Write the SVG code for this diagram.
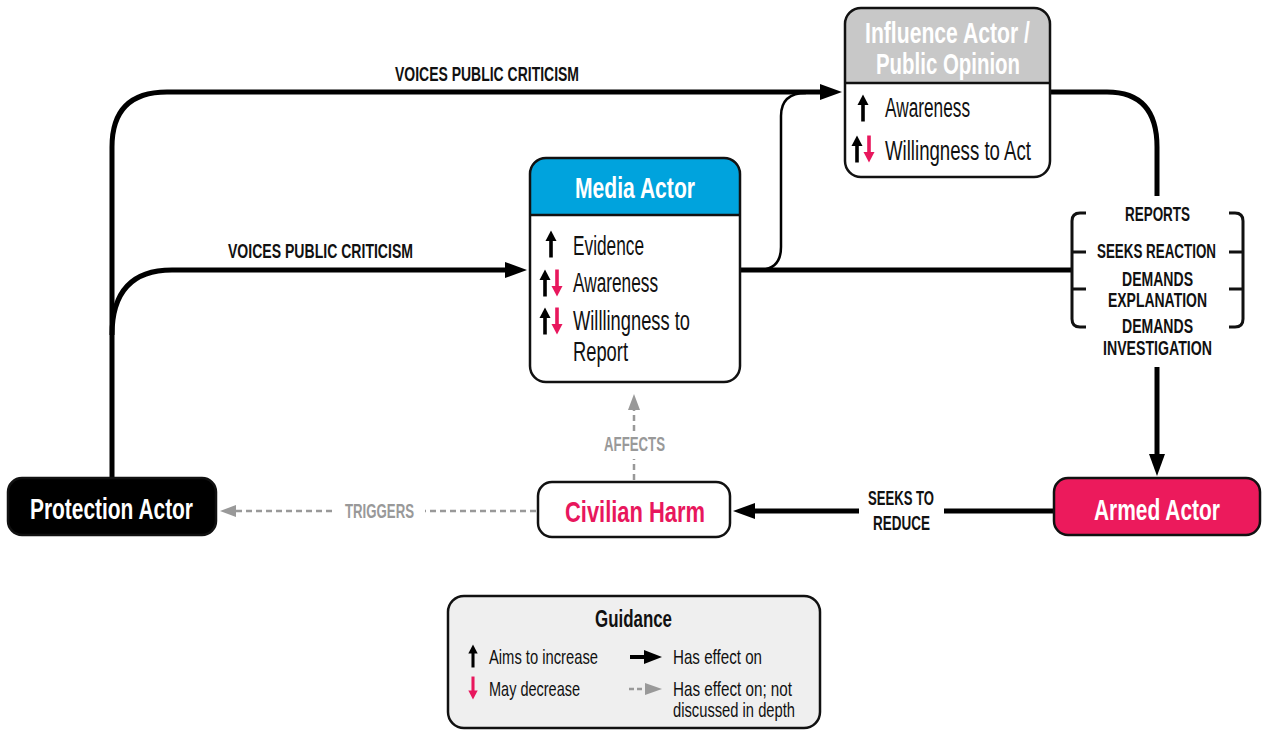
<svg xmlns="http://www.w3.org/2000/svg" width="1267" height="731" viewBox="0 0 1267 731">
  <style>
    text { font-family: "Liberation Sans Narrow", "Liberation Sans", Arial, sans-serif; }
    .title { font-weight: bold; font-size: 30px; fill: #fff; }
    .row { font-size: 27px; fill: #111; }
    .lbl { font-weight: bold; font-size: 21px; fill: #111; }
    .glbl { font-weight: bold; font-size: 21px; fill: #999; }
    .leg { font-size: 21px; fill: #111; }
    .box { stroke: #111; stroke-width: 2.5; }
    .thick { fill: none; stroke: #000; stroke-width: 5; }
    .thin { fill: none; stroke: #000; stroke-width: 2.5; }
    .dash { fill: none; stroke: #999; stroke-width: 2.5; stroke-dasharray: 6 4; }
    .brk { fill: none; stroke: #111; stroke-width: 3; }
  </style>
  <defs>
    <marker id="ah" markerUnits="userSpaceOnUse" markerWidth="23" markerHeight="17" refX="1" refY="8" orient="auto">
      <path d="M0,0 L22,8 L0,16 Z" fill="#000"/>
    </marker>
    <marker id="ahg" markerUnits="userSpaceOnUse" markerWidth="17" markerHeight="13" refX="1" refY="6" orient="auto">
      <path d="M0,0 L16,6 L0,12 Z" fill="#999"/>
    </marker>
    <g id="up">
      <polygon points="0,-13.5 -5.5,-3 5.5,-3" fill="#000"/>
      <rect x="-1.8" y="-4" width="3.6" height="17.5" fill="#000"/>
    </g>
    <g id="down">
      <polygon points="0,13.5 -5.5,3 5.5,3" fill="#e8175d"/>
      <rect x="-1.8" y="-13.5" width="3.6" height="17.5" fill="#e8175d"/>
    </g>
  </defs>

  <!-- connectors -->
  <g id="connectors">
    <!-- Protection -> Influence -->
    <path class="thick" d="M112,478 L112,147 Q112,92 167,92 L821,92" marker-end="url(#ah)"/>
    <!-- Protection -> Media -->
    <path class="thick" d="M112,335 Q112,270 172,270 L506,270" marker-end="url(#ah)"/>
    <!-- Media -> bracket -->
    <path class="thick" d="M740,270 L1072,270"/>
    <!-- Media -> Influence (thin) -->
    <path class="thin" d="M740,270 L758,270 Q781,270 781,247 L781,116 Q781,93 806,93"/>
    <!-- Influence -> bracket -->
    <path class="thick" d="M1050,92 L1107,92 Q1157,92 1157,147 L1157,196"/>
    <!-- bracket -> Armed -->
    <path class="thick" d="M1157,367 L1157,455" marker-end="url(#ah)"/>
    <!-- Armed -> Civilian Harm -->
    <path class="thick" d="M1054,511 L944,511"/>
    <path class="thick" d="M859,511 L754,511" marker-end="url(#ah)"/>
    <text class="lbl" x="868" y="505" textLength="66" lengthAdjust="spacingAndGlyphs">SEEKS TO</text>
    <text class="lbl" x="873" y="530" textLength="57" lengthAdjust="spacingAndGlyphs">REDUCE</text>
    <!-- Civilian Harm -> Protection (dashed) -->
    <path class="dash" d="M536,511 L425,511"/>
    <path class="dash" d="M332,511 L235,511" marker-end="url(#ahg)"/>
    <text class="glbl" x="345" y="518" textLength="69" lengthAdjust="spacingAndGlyphs">TRIGGERS</text>
    <!-- Civilian Harm -> Media (dashed) -->
    <path class="dash" d="M634,480 L634,459"/>
    <path class="dash" d="M634,431 L634,409" marker-end="url(#ahg)"/>
    <text class="glbl" x="604" y="451" textLength="61" lengthAdjust="spacingAndGlyphs">AFFECTS</text>
    <!-- edge labels -->
    <text class="lbl" x="395" y="81" textLength="184" lengthAdjust="spacingAndGlyphs">VOICES PUBLIC CRITICISM</text>
    <text class="lbl" x="228" y="258" textLength="185" lengthAdjust="spacingAndGlyphs">VOICES PUBLIC CRITICISM</text>
    <!-- bracketed actions -->
    <path class="brk" d="M1086,213 L1080,213 Q1072,213 1072,221 L1072,319 Q1072,327 1080,327 L1086,327 M1072,252 L1086,252 M1072,289 L1086,289"/>
    <path class="brk" d="M1229,213 L1235,213 Q1243,213 1243,221 L1243,319 Q1243,327 1235,327 L1229,327 M1229,252 L1243,252 M1229,289 L1243,289"/>
    <text class="lbl" x="1125" y="221" textLength="65" lengthAdjust="spacingAndGlyphs">REPORTS</text>
    <text class="lbl" x="1097" y="258" textLength="119" lengthAdjust="spacingAndGlyphs">SEEKS REACTION</text>
    <text class="lbl" x="1122" y="286" textLength="71" lengthAdjust="spacingAndGlyphs">DEMANDS</text>
    <text class="lbl" x="1108" y="307" textLength="99" lengthAdjust="spacingAndGlyphs">EXPLANATION</text>
    <text class="lbl" x="1122" y="333" textLength="71" lengthAdjust="spacingAndGlyphs">DEMANDS</text>
    <text class="lbl" x="1103" y="355" textLength="109" lengthAdjust="spacingAndGlyphs">INVESTIGATION</text>
  </g>

  <!-- Influence Actor / Public Opinion -->
  <g id="influence-actor">
    <rect x="845" y="8" width="205" height="169" rx="16" fill="#fff"/>
    <path d="M845,83 L845,24 Q845,8 861,8 L1034,8 Q1050,8 1050,24 L1050,83 Z" fill="#c8c8c8"/>
    <line x1="845" y1="83" x2="1050" y2="83" stroke="#111" stroke-width="2.5"/>
    <rect class="box" x="845" y="8" width="205" height="169" rx="16" fill="none"/>
    <text class="title" x="865" y="43" textLength="165" lengthAdjust="spacingAndGlyphs">Influence Actor /</text>
    <text class="title" x="876" y="74" textLength="144" lengthAdjust="spacingAndGlyphs">Public Opinion</text>
    <use href="#up" x="863" y="108"/>
    <text class="row" x="885" y="117" textLength="85" lengthAdjust="spacingAndGlyphs">Awareness</text>
    <use href="#up" x="857" y="149"/>
    <use href="#down" x="869" y="149"/>
    <text class="row" x="885" y="160" textLength="146" lengthAdjust="spacingAndGlyphs">Willingness to Act</text>
  </g>

  <!-- Media Actor -->
  <g id="media-actor">
    <rect x="530" y="158" width="210" height="224" rx="16" fill="#fff"/>
    <path d="M530,215 L530,174 Q530,158 546,158 L724,158 Q740,158 740,174 L740,215 Z" fill="#00a3dd"/>
    <line x1="530" y1="215" x2="740" y2="215" stroke="#111" stroke-width="2.5"/>
    <rect class="box" x="530" y="158" width="210" height="224" rx="16" fill="none"/>
    <text class="title" x="575" y="198" textLength="120" lengthAdjust="spacingAndGlyphs">Media Actor</text>
    <use href="#up" x="551" y="244"/>
    <text class="row" x="573" y="255" textLength="71" lengthAdjust="spacingAndGlyphs">Evidence</text>
    <use href="#up" x="545" y="283"/>
    <use href="#down" x="557" y="283"/>
    <text class="row" x="573" y="292" textLength="85" lengthAdjust="spacingAndGlyphs">Awareness</text>
    <use href="#up" x="545" y="321"/>
    <use href="#down" x="557" y="321"/>
    <text class="row" x="573" y="330" textLength="117" lengthAdjust="spacingAndGlyphs">Willlingness to</text>
    <text class="row" x="573" y="361" textLength="55" lengthAdjust="spacingAndGlyphs">Report</text>
  </g>

  <!-- Protection Actor -->
  <g id="protection-actor">
    <rect class="box" x="8" y="478" width="208" height="57" rx="14" fill="#000"/>
    <text class="title" x="30" y="519" textLength="163" lengthAdjust="spacingAndGlyphs">Protection Actor</text>
  </g>

  <!-- Civilian Harm -->
  <g id="civilian-harm">
    <rect class="box" x="538" y="482" width="192" height="55" rx="14" fill="#fff"/>
    <text class="title" x="565" y="522" textLength="140" lengthAdjust="spacingAndGlyphs" style="fill:#e8175d">Civilian Harm</text>
  </g>

  <!-- Armed Actor -->
  <g id="armed-actor">
    <rect class="box" x="1054" y="478" width="206" height="57" rx="14" fill="#ec1a5c"/>
    <text class="title" x="1094" y="520" textLength="126" lengthAdjust="spacingAndGlyphs">Armed Actor</text>
  </g>

  <!-- Guidance legend -->
  <g id="legend">
    <rect class="box" x="448" y="596" width="372" height="132" rx="16" fill="#efefef"/>
    <text class="lbl" x="595" y="627" textLength="77" lengthAdjust="spacingAndGlyphs" style="font-size:23px">Guidance</text>
    <use href="#up" transform="translate(473,656) scale(0.85)"/>
    <text class="leg" x="489" y="664" textLength="109" lengthAdjust="spacingAndGlyphs">Aims to increase</text>
    <use href="#down" transform="translate(473,688) scale(0.85)"/>
    <text class="leg" x="489" y="696" textLength="91" lengthAdjust="spacingAndGlyphs">May decrease</text>
    <path d="M630,657 L645,657" stroke="#000" stroke-width="4" fill="none"/>
    <path d="M644,650 L662,657 L644,664 Z" fill="#000"/>
    <path d="M629,689 L645,689" stroke="#999" stroke-width="2.5" stroke-dasharray="5 3" fill="none"/>
    <path d="M645,683 L662,689 L645,695 Z" fill="#999"/>
    <text class="leg" x="673" y="664" textLength="89" lengthAdjust="spacingAndGlyphs">Has effect on</text>
    <text class="leg" x="673" y="696" textLength="119" lengthAdjust="spacingAndGlyphs">Has effect on; not</text>
    <text class="leg" x="673" y="717" textLength="122" lengthAdjust="spacingAndGlyphs">discussed in depth</text>
  </g>
</svg>
